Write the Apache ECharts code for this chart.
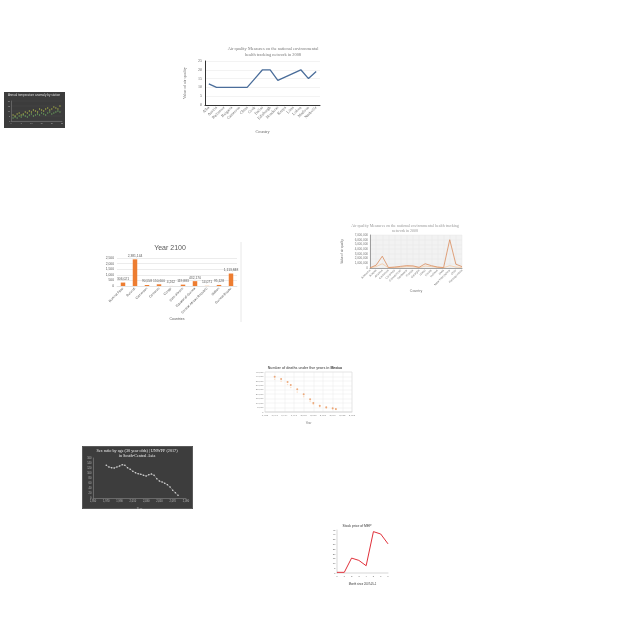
<!DOCTYPE html>
<html><head><meta charset="utf-8">
<script src="https://cdn.jsdelivr.net/npm/echarts@6/dist/echarts.min.js"></script>
<style>
html,body{margin:0;padding:0;background:#fff;width:640px;height:640px;overflow:hidden}
.c{position:absolute}
</style></head><body>
<div id="cA" class="c" style="left:180px;top:40px;width:150px;height:100px"></div>
<div id="cB" class="c" style="left:4px;top:92px;width:61px;height:36px"></div>
<div id="cC" class="c" style="left:100px;top:240px;width:150px;height:85px"></div>
<div id="cD" class="c" style="left:340px;top:218px;width:130px;height:77px"></div>
<div id="cE" class="c" style="left:255px;top:360px;width:100px;height:65px"></div>
<div id="cF" class="c" style="left:82px;top:446px;width:111px;height:63px"></div>
<div id="cG" class="c" style="left:322px;top:520px;width:73px;height:65px"></div>
<script>
// ---- data ----
const airCountries = ['Alba','Austria','Baltimore','Bulgaria','Cameroon','China','Cook','Dallas','Edinburgh','Honduras','Kenya','Lima','Lisbon','Madison','Nashville'];
const airValues = [12,10,10,10,10,10,15,20,20,14,16,18,20,15,19];

const tempX = [1,2,3,4,5,6,7,8,9,10,11,12,13,14,15,16,17,18,19,20,21,22,23,24];
const tempA = [6,5,7,8,6,7,9,8,10,9,11,10,9,12,11,10,12,13,11,12,14,13,12,15];
const tempB = [3,4,3,5,4,6,5,4,6,7,5,6,7,6,8,7,6,8,9,7,8,9,10,9];

const popCountries = ['Burkina Faso','Burundi','Cameroon','Comoros','Congo',"Cote d'Ivoire",'Equatorial Guinea','Central African Republic','Gabon','Guinea-Bissau'];
const popValues = [306.021, 2381.144, 90.558, 150.600, 4.262, 119.883, 432.170, 14.071, 95.128, 1113.848];
const popTicks = [0, 500, 1000, 1500, 2000, 2500];

const aqStates = ['Alabama','Alaska','Arizona','California','Colorado','Connecticut','Delaware','Florida','Georgia','Idaho','Illinois','Indiana','Iowa','New Hampshire','Ohio','Pennsylvania'];
const aqSeriesA = [50000,600000,2500000,100000,200000,350000,500000,450000,150000,900000,500000,200000,100000,6000000,800000,300000];
const aqSeriesB = [20000,300000,900000,50000,100000,150000,300000,250000,60000,400000,300000,150000,50000,500000,200000,100000];

const mexYears = [1991,1993,1995,1996,1998,2000,2002,2003,2005,2007,2009,2010];
const mexDeaths = [39750,37100,33750,30400,25500,19900,14250,10100,7100,5250,4100,3400];
const mexDeathsB = [36800,34600,31000,27600,22400,17300,12000,8600,6000,4300,3300,2800];

const sexYears = [1970,1974,1978,1982,1986,1990,1994,1998,2002,2006,2010,2014,2018,2022,2026,2030,2034,2038,2042,2046,2050,2054,2058,2062,2066,2070,2074,2078];
const sexRatio = [131,124,121,120,124,128,133,131,121,115,107,101,97,95,91,88,93,96,91,77,68,64,59,53,44,31,21,11];

const mepMonths = ['0','1','2','3','4','5','6','7'];
const mepPrice = [0.7,0.7,15.6,13.2,7.6,43.3,40.8,30.5];

// ---- helpers ----
const SERIF = "'Liberation Serif','DejaVu Serif',serif";
const SANS = "'Liberation Sans','DejaVu Sans',sans-serif";
function mk(id, opt){
  const c = echarts.init(document.getElementById(id), null, {renderer:'canvas'});
  opt.animation = false;
  c.setOption(opt);
}

// A: main air quality line
mk('cA', {
  title:{text:'Air quality Measures on the national environmental\nhealth tracking network in 2008', left:93, top:6, padding:0, textAlign:'center',
    textStyle:{fontFamily:SERIF, fontSize:4.4, fontWeight:'normal', color:'#777', lineHeight:5.6}},
  grid:{left:25, right:10, top:21, bottom:35, outerBoundsMode:'none'},
  xAxis:{type:'category', data:airCountries, name:'Country', nameLocation:'middle', nameGap:25,
    nameTextStyle:{fontFamily:SERIF, fontSize:4.3, color:'#666'},
    axisLine:{lineStyle:{color:'#333', width:1}}, axisTick:{show:false},
    axisLabel:{rotate:45, fontSize:4, interval:0, color:'#666', fontFamily:SERIF, margin:2}},
  yAxis:{type:'value', min:0, max:25, interval:5, name:'Value of air quality', nameLocation:'middle', nameGap:10,
    nameTextStyle:{fontFamily:SERIF, fontSize:4.2, color:'#666'},
    axisLine:{show:true, lineStyle:{color:'#333', width:1}}, axisTick:{show:false},
    splitLine:{lineStyle:{color:'#e6e6e6', width:0.5}},
    axisLabel:{fontSize:4, color:'#666', fontFamily:SERIF, margin:3}},
  series:[{type:'line', data:airValues, symbol:'none', lineStyle:{color:'#4a6d9a', width:1.3}}]
});

// B: tiny dark scatter
mk('cB', {
  backgroundColor:'#3c3c3c',
  title:{text:'Annual temperature anomaly by station', left:30, top:2, padding:0, textAlign:'center',
    textStyle:{fontFamily:SANS, fontSize:3, fontWeight:'normal', color:'#ddd'}},
  grid:{left:7, right:3, top:9, bottom:7, outerBoundsMode:'none'},
  xAxis:{type:'value', min:0, max:25, interval:5, name:'Year', nameLocation:'middle', nameGap:4,
    nameTextStyle:{fontSize:2.5, color:'#bbb'},
    axisLine:{lineStyle:{color:'#888', width:0.5}}, axisTick:{show:false},
    splitLine:{show:false}, axisLabel:{fontSize:2, color:'#aaa', margin:1}},
  yAxis:{type:'value', min:0, max:20, interval:5,
    axisLine:{show:true, lineStyle:{color:'#888', width:0.5}}, axisTick:{show:false},
    splitLine:{lineStyle:{color:'#555', width:0.3}}, axisLabel:{fontSize:2, color:'#aaa', margin:1}},
  series:[
    {type:'scatter', data:tempX.map((x,i)=>[x,tempA[i]]), symbolSize:1.3, itemStyle:{color:'#c9d44c'}},
    {type:'scatter', data:tempX.map((x,i)=>[x,tempB[i]]), symbolSize:1.3, itemStyle:{color:'#7cc46a'}}
  ]
});

// C: Year 2100 bar chart
mk('cC', {
  title:{text:'Year 2100', left:70, top:5, padding:0, textAlign:'center',
    textStyle:{fontFamily:SANS, fontSize:7, fontWeight:'normal', color:'#595959'}},
  grid:{left:17, right:13, top:18, bottom:39, outerBoundsMode:'none'},
  xAxis:{type:'category', data:popCountries, name:'Countries', nameLocation:'middle', nameGap:30,
    nameTextStyle:{fontFamily:SANS, fontSize:3.5, color:'#595959'},
    axisLine:{lineStyle:{color:'#d9d9d9', width:0.5}}, axisTick:{show:false},
    axisLabel:{rotate:45, fontSize:3.3, interval:0, color:'#595959', fontFamily:SANS, margin:2}},
  yAxis:{type:'value', min:popTicks[0], max:popTicks[popTicks.length-1], interval:500,
    name:'Population (thousands)', nameLocation:'middle', nameGap:10,
    nameTextStyle:{fontFamily:SANS, fontSize:3, color:'#595959'},
    axisLine:{show:false}, axisTick:{show:false},
    splitLine:{lineStyle:{color:'#d9d9d9', width:0.5}},
    axisLabel:{fontSize:3.3, color:'#595959', fontFamily:SANS, margin:3}},
  series:[{type:'bar', data:popValues, barWidth:4.5, itemStyle:{color:'#ED7D31'},
    label:{show:true, position:'top', distance:2, fontSize:3.3, color:'#595959', fontFamily:SANS,
      formatter:p=>Math.round(p.value*1000).toLocaleString('en-US')}}],
  graphic:[{type:'line', shape:{x1:141, y1:2, x2:141, y2:82}, style:{stroke:'#e2e2e2', lineWidth:0.8}}]
});

// D: air quality orange lines
mk('cD', {
  title:{text:'Air quality Measures on the national environmental health tracking\nnetwork in 2008', left:65, top:5, padding:0, textAlign:'center',
    textStyle:{fontFamily:SERIF, fontSize:4, fontWeight:'normal', color:'#999', lineHeight:5}},
  grid:{left:30, right:8, top:17, bottom:27, show:true, backgroundColor:'#f2f2f2', borderWidth:0, outerBoundsMode:'none'},
  xAxis:{type:'category', data:aqStates, boundaryGap:false, name:'Country', nameLocation:'middle', nameGap:19,
    nameTextStyle:{fontFamily:SANS, fontSize:3.5, color:'#777'},
    axisLine:{lineStyle:{color:'#666', width:0.6}}, axisTick:{show:false},
    splitLine:{show:true, lineStyle:{color:'#e2e2e2', width:0.4}},
    axisLabel:{rotate:45, fontSize:3, interval:0, color:'#777', fontFamily:SANS, margin:2}},
  yAxis:{type:'value', min:0, max:7000000, interval:1000000, name:'Value of air quality', nameLocation:'middle', nameGap:19,
    nameTextStyle:{fontFamily:SANS, fontSize:3, color:'#777'},
    axisLine:{show:true, lineStyle:{color:'#666', width:0.6}}, axisTick:{show:false},
    splitLine:{lineStyle:{color:'#e2e2e2', width:0.4}},
    axisLabel:{fontSize:3, color:'#777', fontFamily:SANS, margin:2, formatter:v=>v.toLocaleString('en-US')}},
  series:[
    {type:'line', data:aqSeriesB, symbol:'none', lineStyle:{color:'#f5c9a2', width:0.8}},
    {type:'line', data:aqSeriesA, symbol:'none', lineStyle:{color:'#d98b5c', width:0.8}}
  ]
});

// E: deaths scatter
mk('cE', {
  title:{text:'{n|Number of deaths under five years in }{b|Mexico}', left:50, top:6, padding:0, textAlign:'center',
    textStyle:{rich:{n:{fontFamily:SANS, fontSize:3.5, color:'#666'}, b:{fontFamily:SANS, fontSize:3.5, color:'#333', fontWeight:'bold'}}}},
  grid:{left:10, right:3, top:12, bottom:13, show:true, borderColor:'#ccc', borderWidth:0.4, outerBoundsMode:'none'},
  xAxis:{type:'value', min:1988, max:2015, interval:3, name:'Year', nameLocation:'middle', nameGap:6,
    nameTextStyle:{fontFamily:SANS, fontSize:2.8, color:'#777'},
    axisLine:{lineStyle:{color:'#bbb', width:0.4}}, axisTick:{show:false},
    splitLine:{show:true, lineStyle:{color:'#e4e4e4', width:0.4}},
    axisLabel:{fontSize:2.5, color:'#888', fontFamily:SANS, margin:2}},
  yAxis:{type:'value', min:0, max:45000, interval:5000, name:'Number of deaths', nameLocation:'middle', nameGap:7,
    nameTextStyle:{fontFamily:SANS, fontSize:2.5, color:'#777'},
    axisLine:{show:false}, axisTick:{show:false},
    splitLine:{lineStyle:{color:'#e4e4e4', width:0.4}},
    axisLabel:{fontSize:2.5, color:'#888', fontFamily:SANS, margin:1.5}},
  series:[
    {type:'scatter', data:mexYears.map((y,i)=>[y,mexDeathsB[i]]), symbolSize:1.6, itemStyle:{color:'#fbd9bd'}},
    {type:'scatter', data:mexYears.map((y,i)=>[y,mexDeaths[i]]), symbolSize:2, itemStyle:{color:'#e8965e'}}
  ]
});

// F: dark sex ratio line
mk('cF', {
  backgroundColor:'#3d3d3d',
  title:{text:'Sex ratio by age (30 year olds) | UNWPP (2017)\nin South-Central Asia', left:55, top:3, padding:0, textAlign:'center',
    textStyle:{fontFamily:SERIF, fontSize:4.2, fontWeight:'normal', color:'#eee', lineHeight:4.6}},
  grid:{left:11, right:7, top:12, bottom:11, outerBoundsMode:'none'},
  xAxis:{type:'value', min:1950, max:2090, interval:20, name:'Year', nameLocation:'middle', nameGap:6,
    nameTextStyle:{fontFamily:SERIF, fontSize:3, color:'#bbb'},
    axisLine:{lineStyle:{color:'#999', width:0.5}}, axisTick:{show:false},
    splitLine:{show:false}, axisLabel:{fontSize:2.6, color:'#bbb', margin:2}},
  yAxis:{type:'value', min:0, max:160, interval:20, name:'Sex ratio', nameLocation:'middle', nameGap:7,
    nameTextStyle:{fontFamily:SERIF, fontSize:2.8, color:'#bbb'},
    axisLine:{show:true, lineStyle:{color:'#999', width:0.5}}, axisTick:{show:false},
    splitLine:{show:false}, axisLabel:{fontSize:2.6, color:'#bbb', margin:1.5}},
  series:[{type:'line', data:sexYears.map((y,i)=>[y,sexRatio[i]]), symbol:'circle', symbolSize:1.6,
    lineStyle:{color:'#9a9a9a', width:0.5}, itemStyle:{color:'#d8d8d8'}}],
  graphic:[{type:'rect', shape:{x:0.5, y:0.5, width:110, height:62}, style:{fill:'none', stroke:'#5a5a5a', lineWidth:1}}]
});

// G: stock price red line
mk('cG', {
  title:{text:'Stock price of MEP', left:35, top:5, padding:0, textAlign:'center',
    textStyle:{fontFamily:SANS, fontSize:3.4, fontWeight:'normal', color:'#333'}},
  grid:{left:15, right:7, top:10, bottom:12, outerBoundsMode:'none'},
  xAxis:{type:'category', data:mepMonths, boundaryGap:false, name:'Month since 2007-05-1', nameLocation:'middle', nameGap:6,
    nameTextStyle:{fontFamily:SANS, fontSize:2.7, color:'#333'},
    axisLine:{lineStyle:{color:'#999', width:0.4}}, axisTick:{show:false},
    axisLabel:{fontSize:2.5, color:'#666', margin:1.5}},
  yAxis:{type:'value', min:0, max:45, interval:5, name:'Stock Price (USD)', nameLocation:'middle', nameGap:6,
    nameTextStyle:{fontFamily:SANS, fontSize:2.7, color:'#333'},
    axisLine:{show:true, lineStyle:{color:'#999', width:0.4}}, axisTick:{show:false},
    splitLine:{show:false}, axisLabel:{fontSize:2.5, color:'#666', margin:1.5}},
  series:[{type:'line', data:mepPrice, symbol:'none', lineStyle:{color:'#e0303a', width:1}}]
});
</script>
</body></html>
